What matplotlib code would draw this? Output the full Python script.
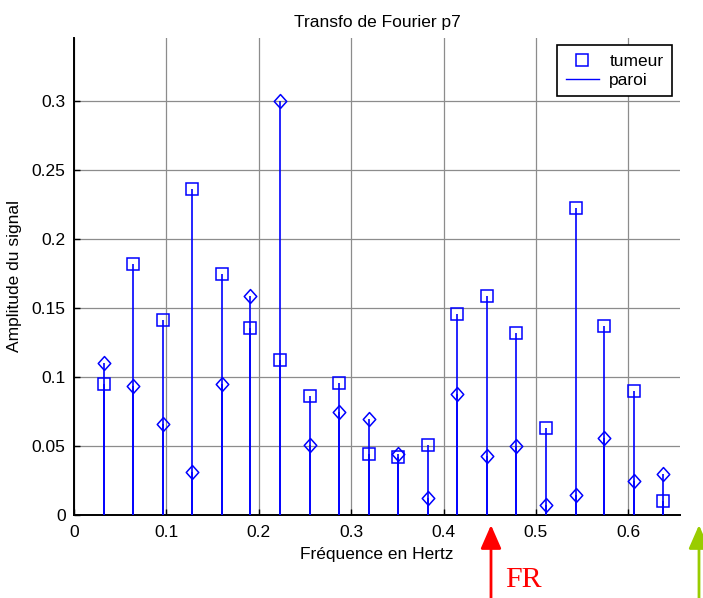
import numpy as np
import matplotlib
matplotlib.use('Agg')
import matplotlib.pyplot as plt
from matplotlib.lines import Line2D

plt.rcParams['font.family'] = ['Liberation Sans', 'DejaVu Sans']

# frequencies (Hz) and amplitudes
freq = [0.032, 0.064, 0.096, 0.128, 0.160, 0.191, 0.223, 0.255, 0.287, 0.319,
        0.351, 0.383, 0.415, 0.447, 0.479, 0.511, 0.543, 0.574, 0.606, 0.638]
tumeur = [0.095, 0.182, 0.141, 0.236, 0.175, 0.1355, 0.112, 0.086, 0.096, 0.044,
          0.042, 0.051, 0.146, 0.159, 0.132, 0.063, 0.2225, 0.137, 0.090, 0.010]
paroi = [0.110, 0.0935, 0.066, 0.031, 0.095, 0.159, 0.300, 0.051, 0.0745, 0.0695,
         0.044, 0.012, 0.088, 0.043, 0.050, 0.007, 0.0145, 0.056, 0.025, 0.030]

xticks = [0, 0.1, 0.2, 0.3, 0.4, 0.5, 0.6]
yticks = [0, 0.05, 0.1, 0.15, 0.2, 0.25, 0.3]
xticklabels = ['0', '0.1', '0.2', '0.3', '0.4', '0.5', '0.6']
yticklabels = ['0', '0.05', '0.1', '0.15', '0.2', '0.25', '0.3']

blue = '#0000ff'
fs = 12.5
diamond = [(0, -1), (0.9, 0), (0, 1), (-0.9, 0), (0, -1)]

fig = plt.figure(figsize=(7.03, 5.98), dpi=100)
ax = fig.add_axes([74/703, 1-515/598, 606/703, 477/598])

# stems for both series
ax.vlines(freq, 0, tumeur, color=blue, lw=1.2, zorder=3)
ax.vlines(freq, 0, paroi, color=blue, lw=1.2, zorder=3)
h1, = ax.plot(freq, tumeur, ls='none', marker='s', ms=8.3, mfc='none', mec=blue,
              mew=1.1, zorder=4, clip_on=False)
ax.plot(freq, paroi, ls='none', marker=diamond, ms=10, mfc='none', mec=blue,
        mew=1.1, zorder=4, clip_on=False)

ax.set_xlim(0, 0.656)
ax.set_ylim(0, 0.3457)
ax.set_xticks(xticks)
ax.set_xticklabels(xticklabels)
ax.set_yticks(yticks)
ax.set_yticklabels(yticklabels)
ax.tick_params(direction='in', length=4, width=1, labelsize=fs)
ax.tick_params(axis='x', pad=7)
ax.tick_params(axis='y', pad=6)
ax.grid(True, color='#8c8c8c', lw=0.9)
ax.set_axisbelow(True)
for s in ['top', 'right']:
    ax.spines[s].set_visible(False)
for s in ['left', 'bottom']:
    ax.spines[s].set_linewidth(1.4)

ax.set_title('Transfo de Fourier p7', fontsize=fs, pad=8)
ax.set_xlabel('Fréquence en Hertz', fontsize=fs, labelpad=5)
ax.set_ylabel('Amplitude du signal', fontsize=fs, labelpad=7)

h2 = Line2D([], [], color=blue, lw=1.0)
leg = ax.legend([h1, h2], ['tumeur', 'paroi'], loc='upper right',
                bbox_to_anchor=(0.987, 0.985), borderaxespad=0, fontsize=fs,
                fancybox=False, framealpha=1, edgecolor='black',
                handlelength=1.9, handletextpad=0.6, borderpad=0.5,
                labelspacing=0.2)
leg.get_frame().set_linewidth(1.2)

# arrows below the axis
fig.add_artist(plt.Annotation('', xy=(491/703, 1-525/598), xytext=(491/703, 0),
                              xycoords='figure fraction',
                              arrowprops=dict(arrowstyle='-|>,head_length=0.8,head_width=0.35',
                                              color='#ff0000', lw=2, mutation_scale=18,
                                              shrinkA=0, shrinkB=0)))
fig.add_artist(plt.Annotation('', xy=(699/703, 1-525/598), xytext=(699/703, 0),
                              xycoords='figure fraction',
                              arrowprops=dict(arrowstyle='-|>,head_length=0.8,head_width=0.35',
                                              color='#99cc00', lw=2, mutation_scale=18,
                                              shrinkA=0, shrinkB=0)))
fig.text(505/703, 1-587/598, 'FR', color='#ff0000', fontsize=21.5,
         family='Liberation Serif', ha='left', va='baseline')

fig.savefig('out.png', dpi=100)
